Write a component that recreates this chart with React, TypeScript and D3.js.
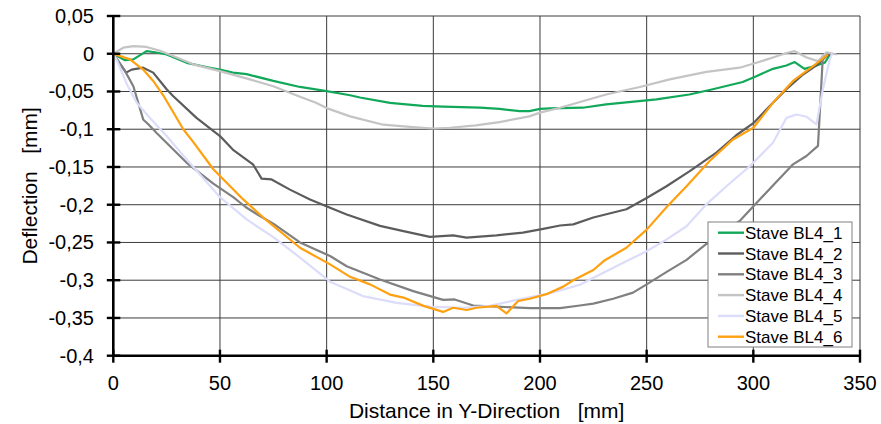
import React from "react";
import * as d3 from "d3";

const seriesNames = ["Stave BL4_1", "Stave BL4_2", "Stave BL4_3", "Stave BL4_4", "Stave BL4_5", "Stave BL4_6"];
const seriesColors = ["#12a85a", "#5c5c5c", "#808080", "#c4c4c4", "#dcdcfb", "#ffa010"];

const s1x = [0, 5.5, 9.4, 15.6, 19.5, 25, 34.4, 45.3, 50, 56, 62.5, 75, 87.5, 100, 111, 115.6, 129.7, 145, 154.6, 171.8, 181, 190.5, 195, 200, 204.7, 220, 231, 254.6, 270, 281, 295, 301.4, 309.2, 315.5, 319.4, 324, 329.6, 333.4, 336];
const s1y = [0, -0.0085, -0.0075, 0.0034, 0.002, -0.001, -0.012, -0.0185, -0.021, -0.025, -0.027, -0.036, -0.044, -0.0495, -0.055, -0.058, -0.065, -0.069, -0.07, -0.0715, -0.073, -0.076, -0.076, -0.073, -0.0725, -0.0715, -0.067, -0.0605, -0.054, -0.047, -0.0375, -0.0297, -0.02, -0.0155, -0.011, -0.02, -0.0155, -0.012, -0.001];

const s2x = [0, 6, 8.6, 14, 18.7, 25, 28, 39, 50, 56, 65.6, 69.5, 74.2, 82.8, 92.2, 101.6, 109.4, 125, 136, 148.4, 159.3, 165.6, 179.6, 192, 201.5, 209.4, 215.6, 225, 240.5, 250, 259.3, 270.2, 282.7, 292, 300, 309.2, 315.5, 323.3, 329.6, 334.3, 336];
const s2y = [0, -0.025, -0.021, -0.0185, -0.025, -0.047, -0.056, -0.085, -0.109, -0.127, -0.147, -0.1655, -0.1665, -0.18, -0.193, -0.204, -0.213, -0.228, -0.235, -0.2425, -0.2405, -0.2435, -0.2405, -0.237, -0.232, -0.2275, -0.226, -0.217, -0.206, -0.191, -0.1755, -0.1555, -0.131, -0.108, -0.092, -0.065, -0.047, -0.0275, -0.0155, -0.003, 0];

const s3x = [0, 5.5, 9.4, 14, 16.4, 20.3, 34.4, 46.9, 56.2, 62, 68.7, 75, 87.5, 101.6, 109.4, 125, 140.6, 154.6, 160, 168.7, 179.6, 195.2, 209.4, 218.7, 225, 234.3, 243.6, 250, 259.4, 268.7, 278, 293.6, 303, 318.6, 324.9, 330.3, 332.6, 334.3, 336];
const s3y = [0, -0.023, -0.043, -0.087, -0.0935, -0.105, -0.1445, -0.172, -0.19, -0.203, -0.215, -0.225, -0.25, -0.268, -0.2815, -0.299, -0.3145, -0.326, -0.3255, -0.3335, -0.335, -0.337, -0.337, -0.3335, -0.331, -0.3245, -0.3165, -0.3055, -0.289, -0.273, -0.252, -0.2215, -0.193, -0.1465, -0.1355, -0.122, -0.003, 0.001, 0];

const s4x = [0, 4.7, 9.4, 15.6, 21.9, 28, 37.5, 50, 64, 75, 87.5, 95, 100, 111, 126.5, 139, 150, 157.8, 170, 181, 195, 200, 209.4, 220, 231, 246.8, 260.8, 278, 293.6, 301.4, 309.2, 315.5, 319.4, 325, 330.3, 334.3, 339];
const s4y = [0, 0.008, 0.01, 0.009, 0.004, -0.003, -0.014, -0.023, -0.034, -0.043, -0.057, -0.065, -0.072, -0.083, -0.094, -0.097, -0.099, -0.098, -0.095, -0.0905, -0.083, -0.078, -0.0715, -0.063, -0.054, -0.044, -0.034, -0.024, -0.0185, -0.012, -0.005, 0.001, 0.0034, -0.005, -0.0098, 0.002, -0.001];

const s5x = [0, 1.6, 6.3, 11, 17.2, 25, 34.4, 45.3, 50, 62.5, 75, 87.5, 101.6, 117, 132.8, 148.4, 164, 176.5, 189, 203, 209.4, 218.7, 223.5, 237.6, 250, 259.4, 268.7, 278, 287.4, 298.3, 309.2, 315.5, 320.2, 325, 329.6, 332.6, 335.8, 337];
const s5y = [0, -0.008, -0.04, -0.065, -0.085, -0.109, -0.14, -0.175, -0.19, -0.2195, -0.243, -0.27, -0.302, -0.321, -0.33, -0.335, -0.3365, -0.334, -0.326, -0.3185, -0.3135, -0.306, -0.299, -0.279, -0.2615, -0.246, -0.2285, -0.1995, -0.1755, -0.149, -0.118, -0.085, -0.0805, -0.0835, -0.0935, -0.047, -0.0075, 0];

const s6x = [0, 7.8, 14, 18.7, 23.4, 32.8, 37.5, 46.9, 50, 60.9, 70.3, 87.5, 101.6, 111, 120.3, 129.7, 136, 145.4, 154.6, 159.3, 165.6, 170.3, 179.6, 184.3, 189.8, 195.2, 203, 210.9, 215.6, 225, 230.4, 240.5, 250, 259.4, 268.7, 279.5, 290.5, 300, 309.2, 318.6, 328, 335];
const s6y = [0, -0.0075, -0.021, -0.036, -0.055, -0.1, -0.117, -0.153, -0.162, -0.193, -0.217, -0.257, -0.279, -0.2955, -0.3055, -0.319, -0.323, -0.334, -0.342, -0.3365, -0.3395, -0.3365, -0.334, -0.344, -0.3275, -0.3245, -0.3185, -0.3085, -0.3, -0.2865, -0.2735, -0.257, -0.233, -0.203, -0.1755, -0.142, -0.1135, -0.098, -0.065, -0.036, -0.0165, -0.001];

const seriesX = [s1x, s2x, s3x, s4x, s5x, s6x];
const seriesY = [s1y, s2y, s3y, s4y, s5y, s6y];

const xTicks = [0, 50, 100, 150, 200, 250, 300, 350];
const yTicks = [0.05, 0, -0.05, -0.1, -0.15, -0.2, -0.25, -0.3, -0.35, -0.4];
const yTickLabels = ["0,05", "0", "-0,05", "-0,1", "-0,15", "-0,2", "-0,25", "-0,3", "-0,35", "-0,4"];

const xTitle = "Distance in Y-Direction   [mm]";
const yTitle = "Deflection   [mm]";

export default function App() {
  const W = 881, H = 424;
  const left = 113.3, right = 860, top = 16, bottom = 355.7;
  const x = d3.scaleLinear().domain([0, 350]).range([left, right]);
  const y = d3.scaleLinear().domain([-0.4, 0.05]).range([bottom, top]);
  const font = "'Liberation Sans', Arial, sans-serif";

  const line = d3
    .line<[number, number]>()
    .x((d) => x(d[0]))
    .y((d) => y(d[1]));

  const legendX = 708, legendY = 222, legendW = 144, legendH = 125;
  const rowH = 20.8;

  return (
    <svg width={W} height={H} style={{ position: "absolute", left: 0, top: 0, background: "#fff" }} fontFamily={font}>
      <rect x={0} y={0} width={W} height={H} fill="#fff" />
      {/* grid */}
      {yTicks.map((t) => (
        <line key={"gy" + t} x1={left} x2={right} y1={y(t)} y2={y(t)} stroke="#3c3c3c" strokeWidth={1} />
      ))}
      {xTicks.map((t) => (
        <line key={"gx" + t} x1={x(t)} x2={x(t)} y1={top} y2={bottom} stroke="#3c3c3c" strokeWidth={1} />
      ))}
      {/* series */}
      {seriesX.map((xs, i) => {
        const pts: [number, number][] = xs.map((v, j) => [v, seriesY[i][j]]);
        return (
          <path key={"s" + i} d={line(pts) || ""} fill="none" stroke={seriesColors[i]} strokeWidth={2.2} strokeLinejoin="round" />
        );
      })}
      {/* axes */}
      <line x1={left} x2={left} y1={top} y2={bottom + 1} stroke="#000" strokeWidth={2.6} />
      <line x1={left - 1} x2={right} y1={bottom} y2={bottom} stroke="#000" strokeWidth={2.6} />
      {yTicks.map((t) => (
        <line key={"ty" + t} x1={left - 6.5} x2={left + 7} y1={y(t)} y2={y(t)} stroke="#000" strokeWidth={2.4} />
      ))}
      {xTicks.map((t) => (
        <line key={"tx" + t} x1={x(t)} x2={x(t)} y1={bottom - 6} y2={bottom + 7} stroke="#000" strokeWidth={2.4} />
      ))}
      {yTicks.map((t, i) => (
        <text key={"ly" + t} x={94} y={y(t)} dy="0.35em" textAnchor="end" fontSize={20} fill="#000">
          {yTickLabels[i]}
        </text>
      ))}
      {xTicks.map((t) => (
        <text key={"lx" + t} x={x(t)} y={389.5} textAnchor="middle" fontSize={20} fill="#000">
          {String(t)}
        </text>
      ))}
      <text x={(left + right) / 2 + 0} y={418} textAnchor="middle" fontSize={21} fill="#000" style={{ whiteSpace: "pre" }}>
        {xTitle}
      </text>
      <text
        transform={`translate(36.5, ${(top + bottom) / 2}) rotate(-90)`}
        textAnchor="middle"
        fontSize={21}
        fill="#000"
        style={{ whiteSpace: "pre" }}
      >
        {yTitle}
      </text>
      {/* legend */}
      <rect x={legendX} y={legendY} width={legendW} height={legendH} fill="#fff" stroke="#808080" strokeWidth={1} />
      {seriesNames.map((n, i) => {
        const cy = legendY + 10.7 + i * rowH;
        return (
          <g key={"lg" + i}>
            <line x1={718} x2={744} y1={cy} y2={cy} stroke={seriesColors[i]} strokeWidth={2.4} />
            <text x={745} y={cy} dy="0.36em" fontSize={17} fill="#000">
              {n}
            </text>
          </g>
        );
      })}
    </svg>
  );
}
